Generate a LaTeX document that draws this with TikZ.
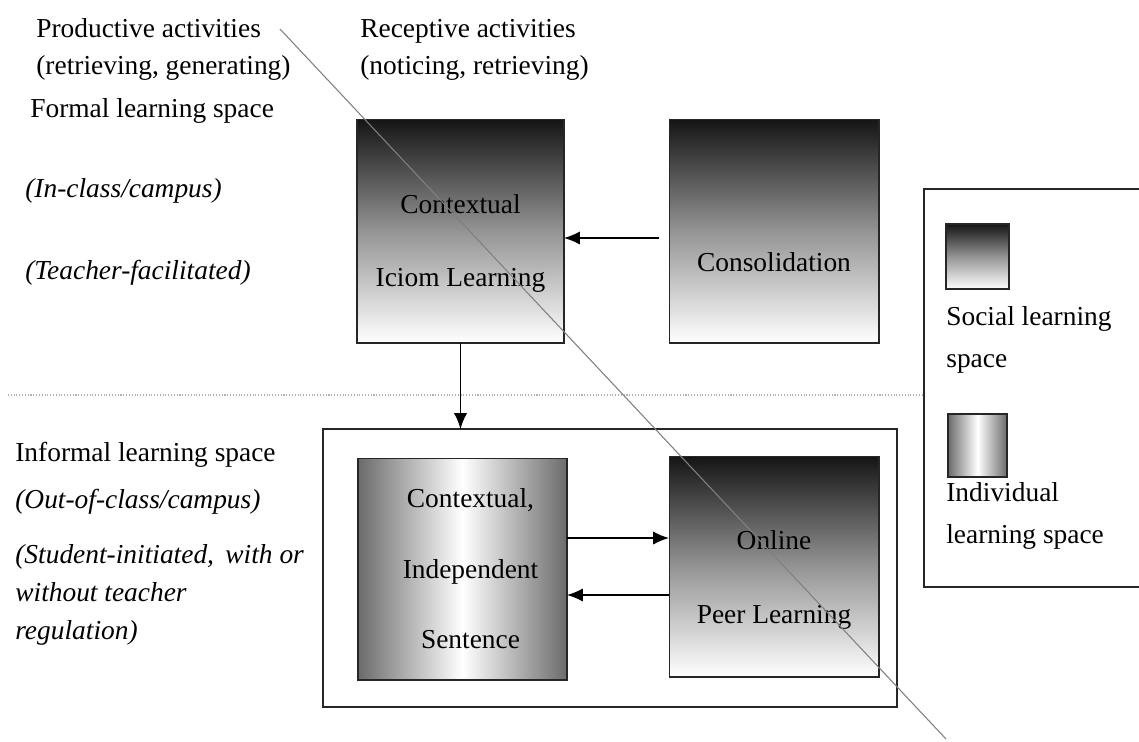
\documentclass[tikz,border=0pt]{standalone}
\usepackage{fontspec}
\setmainfont{Liberation Serif}
\usetikzlibrary{arrows.meta,positioning,calc}

\tikzset{
  txt/.style={inner sep=0pt, font=\fontsize{15.6}{17.5}\selectfont},
  note/.style={txt, font=\fontsize{15.6}{17.5}\selectfont\itshape},
  social/.style={draw=black!85, line width=0.6pt, inner sep=0pt, outer sep=0pt,
    top color=black!92, bottom color=white, middle color=black!42},
  individual/.style={draw=black!85, line width=0.6pt, inner sep=0pt, outer sep=0pt,
    left color=black!58, right color=black!58, middle color=white},
  frame/.style={draw=black!85, line width=0.8pt, inner sep=0pt, outer sep=0pt},
  arr/.style={line width=0.9pt, -{Latex[length=9pt,width=7.5pt]}},
  divider/.style={gray!60, line width=0.6pt, densely dotted},
  diag/.style={gray, line width=0.6pt}
}

\begin{document}
\begin{tikzpicture}[x=0.02cm, y=-0.02cm]
  \useasboundingbox (0,0) rectangle (1139,741);
  \fill[white] (0,0) rectangle (1139,741);

  % headings (base anchor = last line)
  \node[txt, anchor=base west, align=left] (prod) at (36,74) {Productive activities\\[3pt](retrieving, generating)};
  \node[txt, anchor=base west, align=left] (recep) at (360,74) {Receptive activities\\[3pt](noticing, retrieving)};

  % formal learning space
  \node[txt, anchor=base west] (formal) at (30,117) {Formal learning space};
  \node[note, anchor=base west] (inclass) at (25,197) {(In-class/campus)};
  \node[note, anchor=base west] (teacher) at (25,279) {(Teacher-facilitated)};

  \node[social, minimum width=4.14cm, minimum height=4.48cm] (idiom) at (460.5,231) {};
  \node[txt, align=center, yshift=-0.25cm] (idiomtxt) at (idiom) {Contextual\\[24pt]Iciom Learning};
  \node[social, minimum width=4.2cm, minimum height=4.48cm] (cons) at (774,231) {};
  \node[txt, yshift=-0.62cm] (constxt) at (cons) {Consolidation};

  % informal learning space
  \node[txt, anchor=base west] (informal) at (15,461) {Informal learning space};
  \node[note, anchor=base west] (outclass) at (15,508) {(Out-of-class/campus)};
  \node[note, anchor=base west, align=left] (student) at (15,639) {(Student-initiated,\, with or\\[4pt]without teacher\\[4pt]regulation)};

  \node[frame, minimum width=11.48cm, minimum height=5.56cm] (inbox) at (610,568) {};
  \node[individual, minimum width=4.18cm, minimum height=4.44cm] (indep) at (462.5,569) {};
  \node[txt, align=center, xshift=0.16cm] (indeptxt) at (indep) {Contextual,\\[22.6pt]Independent\\[22.6pt]Sentence};
  \node[social, minimum width=4.2cm, minimum height=4.42cm] (online) at (774,566.5) {};
  \node[txt, align=center, yshift=-0.27cm] (onlinetxt) at (online) {Online\\[25pt]Peer Learning};

  % legend
  \node[frame, minimum width=4.52cm, minimum height=7.96cm] (legend) at (1037,388) {};
  \node[social, minimum width=1.26cm, minimum height=1.3cm] (socialkey) at (977.5,256.5) {};
  \node[txt, anchor=base west, align=left] (socialtxt) at (946,367) {Social learning\\[6pt]space};
  \node[individual, minimum width=1.18cm, minimum height=1.26cm] (indivkey) at (977.5,445.5) {};
  \node[txt, anchor=base west, align=left] (indivtxt) at (946,543) {Individual\\[6pt]learning space};

  % connectors
  \draw[arr] ($(cons.west)+(-10,7)$) -- ($(idiom.east)+(0,7)$);
  \draw[arr] (idiom.south) -- (idiom.south |- inbox.north);
  \draw[arr] ([yshift=0.62cm]indep.east) -- ([yshift=0.57cm]online.west);
  \draw[arr] ([yshift=-0.57cm]online.west) -- ([yshift=-0.52cm]indep.east);

  \coordinate (hl) at (8,395);
  \draw[divider] (hl) -- (hl -| legend.west);

  \coordinate (d1) at (280,29);
  \coordinate (d2) at (946,739);
  \draw[diag] (d1) -- (d2);
\end{tikzpicture}
\end{document}
